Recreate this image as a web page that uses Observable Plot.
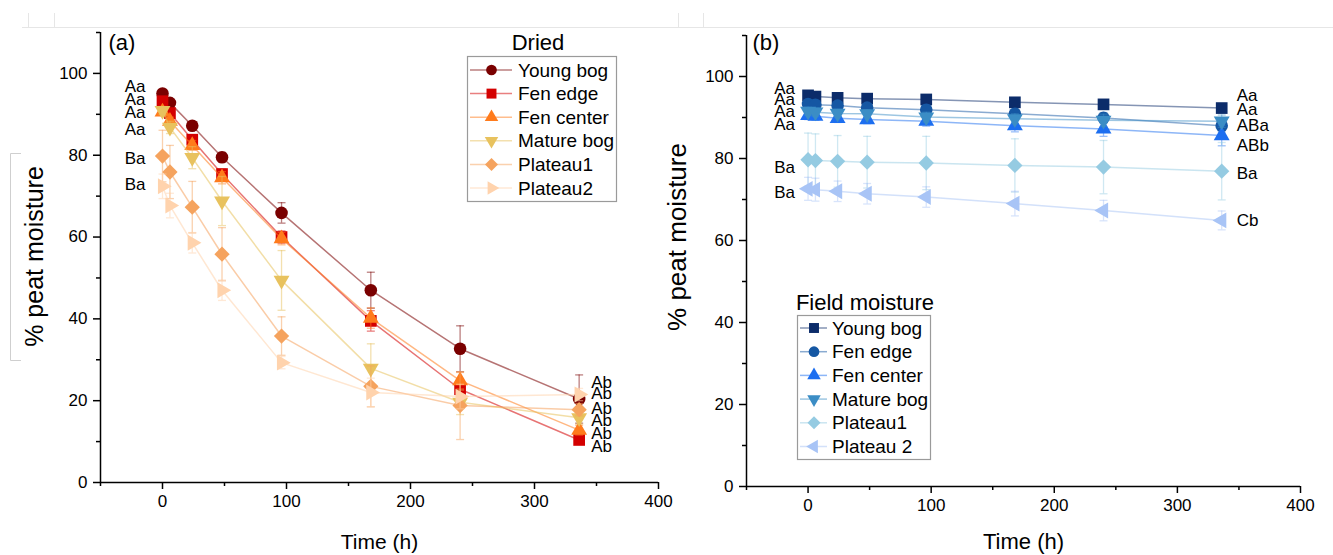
<!DOCTYPE html>
<html><head><meta charset="utf-8">
<script src="https://cdn.jsdelivr.net/npm/d3@7"></script>
<script src="https://cdn.jsdelivr.net/npm/@observablehq/plot@0.6"></script>
<style>
body{margin:0;background:#fff;}
#wrap{position:relative;width:1333px;height:555px;overflow:hidden;background:#fff;font-family:"Liberation Sans",Arial,sans-serif;}
#wrap > div, #wrap > svg{position:absolute;top:0;}
</style></head><body><div id="wrap"></div>
<script>
// ---------------- DATA ----------------
const times = [0, 6, 24, 48, 96, 168, 240, 336];

const driedSites = ["Young bog", "Fen edge", "Fen center", "Mature bog", "Plateau1", "Plateau2"];
const driedYoungBog  = [95.1, 92.8, 87.2, 79.5, 65.9, 47.0, 32.7, 20.4];
const driedFenEdge   = [93.2, 90.3, 83.8, 75.4, 60.0, 39.5, 22.8, 10.4];
const driedFenCenter = [90.6, 88.3, 82.4, 74.5, 59.6, 40.2, 24.9, 12.8];
const driedMatureBog = [90.9, 86.8, 79.4, 68.8, 49.4, 27.9, 19.6, 15.8];
const driedPlateau1  = [79.8, 75.9, 67.3, 55.8, 35.8, 23.5, 18.8, 17.8];
const driedPlateau2  = [72.4, 67.7, 58.6, 47.0, 29.3, 22.0, 21.0, 21.5];
const driedErrYoungBog  = [0.5, 0.5, 1.0, 1.2, 2.5, 4.4, 5.6, 5.9];
const driedErrFenEdge   = [0.5, 0.8, 1.0, 1.2, 1.5, 2.5, 2.0, 1.0];
const driedErrFenCenter = [0.8, 1.0, 1.2, 1.5, 1.5, 2.5, 2.0, 1.2];
const driedErrMatureBog = [1.0, 1.5, 2.7, 6.0, 7.3, 6.0, 3.0, 1.5];
const driedErrPlateau1  = [6.3, 6.5, 6.3, 6.5, 4.7, 5.0, 8.3, 1.5];
const driedErrPlateau2  = [3.0, 3.0, 2.5, 2.5, 1.5, 3.5, 3.0, 1.5];

const fieldSites = ["Young bog", "Fen edge", "Fen center", "Mature bog", "Plateau1", "Plateau 2"];
const fieldYoungBog  = [95.4, 95.1, 94.8, 94.6, 94.4, 93.7, 93.2, 92.3];
const fieldFenEdge   = [93.3, 93.1, 92.9, 92.4, 91.9, 90.9, 89.9, 88.0];
const fieldFenCenter = [90.5, 90.3, 89.8, 89.5, 89.1, 88.0, 87.2, 85.6];
const fieldMatureBog = [91.5, 91.3, 91.0, 90.9, 90.1, 89.7, 89.3, 89.1];
const fieldPlateau1  = [79.7, 79.5, 79.3, 79.1, 78.9, 78.3, 77.9, 76.9];
const fieldPlateau2  = [72.6, 72.4, 72.0, 71.4, 70.6, 69.0, 67.3, 64.9];
const fieldErrYoungBog  = [0.5, 0.5, 0.5, 0.5, 0.5, 0.6, 0.6, 0.7];
const fieldErrFenEdge   = [1.0, 1.0, 1.0, 1.0, 1.2, 1.2, 1.3, 1.5];
const fieldErrFenCenter = [1.0, 1.0, 1.0, 1.0, 1.2, 1.5, 1.8, 2.5];
const fieldErrMatureBog = [1.0, 1.0, 1.0, 1.0, 1.2, 1.2, 1.5, 1.5];
const fieldErrPlateau1  = [6.5, 6.5, 6.3, 6.3, 6.5, 6.5, 6.5, 7.0];
const fieldErrPlateau2  = [2.8, 2.8, 2.5, 2.5, 2.5, 3.0, 2.5, 2.3];

const driedStartLetters = ["Aa", "Aa", "Aa", "Aa", "Ba", "Ba"];
const driedStartLetterY = [96.8, 93.7, 90.5, 86.3, 79.3, 72.9];
const driedEndLetters   = ["Ab", "Ab", "Ab", "Ab", "Ab", "Ab"];
const driedEndLetterY   = [24.4, 21.7, 18.0, 15.1, 11.95, 8.8];
const fieldStartLetters = ["Aa", "Aa", "Aa", "Aa", "Ba", "Ba"];
const fieldStartLetterY = [97.1, 94.4, 91.5, 88.3, 77.8, 71.7];
const fieldEndLetters   = ["Aa", "Aa", "ABa", "ABb", "Ba", "Cb"];
const fieldEndLetterY   = [95.4, 92.0, 88.0, 83.2, 76.3, 64.9];

const xMajorTicks = [0, 100, 200, 300, 400];
const xMinorTicks = [-50, 50, 150, 250, 350];
const yMajorTicks = [0, 20, 40, 60, 80, 100];
const yMinorTicks = [10, 30, 50, 70, 90, 110];

const driedColors = ["#7a0000", "#d40000", "#ff7b1c", "#e8c25e", "#f5a35e", "#ffd3ad"];
const fieldColors = ["#0c2c6a", "#1557a3", "#1c6ef0", "#3b8dc5", "#95cbe2", "#a8c4f6"];
const driedSymbolNames = ["circle", "square", "triangle", "triangleDown", "diamond", "triangleRight"];
const fieldSymbolNames = ["square", "circle", "triangle", "triangleDown", "diamond", "triangleLeft"];

// ---------------- SYMBOLS ----------------
const triY = s => -Math.sqrt(s / (Math.sqrt(3) * 3));
const SYM = {
  circle: d3.symbolCircle,
  square: d3.symbolSquare,
  triangle: d3.symbolTriangle,
  triangleDown: {draw(c, s) { const y = triY(s), k = Math.sqrt(3); c.moveTo(0, -2 * y); c.lineTo(-k * y, y); c.lineTo(k * y, y); c.closePath(); }},
  triangleRight: {draw(c, s) { const y = triY(s), k = Math.sqrt(3); c.moveTo(-2 * y, 0); c.lineTo(y, -k * y); c.lineTo(y, k * y); c.closePath(); }},
  triangleLeft: {draw(c, s) { const y = triY(s), k = Math.sqrt(3); c.moveTo(2 * y, 0); c.lineTo(-y, k * y); c.lineTo(-y, -k * y); c.closePath(); }},
  diamond: {draw(c, s) { const r = Math.sqrt(s / 2); c.moveTo(0, -r); c.lineTo(r, 0); c.lineTo(0, r); c.lineTo(-r, 0); c.closePath(); }}
};
const SYM_R = {circle: 6.3, square: 6.6, triangle: 5.9, triangleDown: 5.9, triangleRight: 5.9, triangleLeft: 5.9, diamond: 6.1};
const capSymbol = {draw(c, s) { const w = Math.sqrt(s) / 2; c.moveTo(-w, 0); c.lineTo(w, 0); }};

const FONT = '"Liberation Sans", Arial, sans-serif';

function seriesRows(values, errs) {
  return times.map((t, j) => ({t, v: values[j], e: errs[j]}));
}

function seriesMarks(valueSets, errSets, colors, symbols, lineOpacity, barOpacity) {
  const marks = [];
  valueSets.forEach((vals, i) => {
    const rows = seriesRows(vals, errSets[i]);
    const c = colors[i];
    marks.push(
      Plot.ruleX(rows, {x: "t", y1: d => d.v - d.e, y2: d => d.v + d.e, stroke: c, strokeOpacity: barOpacity, strokeWidth: 1.3}),
      Plot.dot(rows, {x: "t", y: d => d.v + d.e, symbol: capSymbol, r: 4.5, fill: "none", stroke: c, strokeOpacity: barOpacity, strokeWidth: 1.3}),
      Plot.dot(rows, {x: "t", y: d => d.v - d.e, symbol: capSymbol, r: 4.5, fill: "none", stroke: c, strokeOpacity: barOpacity, strokeWidth: 1.3}),
      Plot.line(rows, {x: "t", y: "v", stroke: c, strokeOpacity: lineOpacity, strokeWidth: 1.5}),
      Plot.dot(rows, {x: "t", y: "v", symbol: SYM[symbols[i]], r: SYM_R[symbols[i]], fill: c, stroke: "none"})
    );
  });
  return marks;
}

function axisMarks() {
  return [
    Plot.axisX({ticks: xMajorTicks, tickSize: 7, tickPadding: 5, strokeWidth: 1.5, fontSize: 17, label: null}),
    Plot.axisX({ticks: xMinorTicks, tickSize: 4, strokeWidth: 1.5, tickFormat: () => "", label: null}),
    Plot.axisY({ticks: yMajorTicks, tickSize: 7, tickPadding: 6, strokeWidth: 1.5, fontSize: 17, label: null}),
    Plot.axisY({ticks: yMinorTicks, tickSize: 4, strokeWidth: 1.5, tickFormat: () => "", label: null}),
    Plot.ruleX([-50], {strokeWidth: 1.5, stroke: "#000"}),
    Plot.ruleY([0], {strokeWidth: 1.5, stroke: "#000"})
  ];
}

function letterMarks(letters, ys, t, dx, anchor) {
  const rows = letters.map((s, i) => ({t, v: ys[i], s}));
  return Plot.text(rows, {x: "t", y: "v", text: "s", dx, textAnchor: anchor, fontSize: 17, fill: "#000"});
}

// ---------------- PANEL (a) ----------------
const panelA = Plot.plot({
  width: 680, height: 555,
  marginTop: 32, marginRight: 22, marginBottom: 73, marginLeft: 100,
  x: {domain: [-50, 400], label: null},
  y: {domain: [0, 110], label: null},
  style: {background: "transparent", overflow: "visible", fontFamily: FONT, fontSize: "17px", color: "#000"},
  marks: [
    ...axisMarks(),
    ...seriesMarks(
      [driedYoungBog, driedFenEdge, driedFenCenter, driedMatureBog, driedPlateau1, driedPlateau2],
      [driedErrYoungBog, driedErrFenEdge, driedErrFenCenter, driedErrMatureBog, driedErrPlateau1, driedErrPlateau2],
      driedColors, driedSymbolNames, 0.55, 0.5),
    letterMarks(driedStartLetters, driedStartLetterY, 0, -17, "end"),
    letterMarks(driedEndLetters, driedEndLetterY, 336, 12, "start"),
    Plot.text(["(a)"], {text: d => d, frameAnchor: "top-left", dx: 8, dy: 10, textAnchor: "start", lineAnchor: "middle", fontSize: 22}),
    Plot.text(["Time (h)"], {text: d => d, frameAnchor: "bottom", dy: 60, textAnchor: "middle", lineAnchor: "middle", fontSize: 21}),
    Plot.text(["% peat moisture"], {text: d => d, frameAnchor: "left", rotate: -90, dx: -66, dy: -1, textAnchor: "middle", lineAnchor: "middle", fontSize: 25})
  ]
});

// ---------------- PANEL (b) ----------------
const panelB = Plot.plot({
  width: 683, height: 555,
  marginTop: 35, marginRight: 33, marginBottom: 69, marginLeft: 96,
  x: {domain: [-50, 400], label: null},
  y: {domain: [0, 110], label: null},
  style: {background: "transparent", overflow: "visible", fontFamily: FONT, fontSize: "17px", color: "#000"},
  marks: [
    ...axisMarks(),
    ...seriesMarks(
      [fieldYoungBog, fieldFenEdge, fieldFenCenter, fieldMatureBog, fieldPlateau1, fieldPlateau2],
      [fieldErrYoungBog, fieldErrFenEdge, fieldErrFenCenter, fieldErrMatureBog, fieldErrPlateau1, fieldErrPlateau2],
      fieldColors, fieldSymbolNames, 0.5, 0.45),
    letterMarks(fieldStartLetters, fieldStartLetterY, 0, -13, "end"),
    letterMarks(fieldEndLetters, fieldEndLetterY, 336, 15, "start"),
    Plot.text(["(b)"], {text: d => d, frameAnchor: "top-left", dx: 6, dy: 7, textAnchor: "start", lineAnchor: "middle", fontSize: 22}),
    Plot.text(["Time (h)"], {text: d => d, frameAnchor: "bottom", dy: 55, textAnchor: "middle", lineAnchor: "middle", fontSize: 22}),
    Plot.text(["% peat moisture"], {text: d => d, frameAnchor: "left", rotate: -90, dx: -69, dy: -24, textAnchor: "middle", lineAnchor: "middle", fontSize: 26})
  ]
});

const wrap = document.getElementById("wrap");
const divA = document.createElement("div"); divA.style.left = "0px"; divA.appendChild(panelA); wrap.appendChild(divA);
const divB = document.createElement("div"); divB.style.left = "650px"; divB.appendChild(panelB); wrap.appendChild(divB);

// ---------------- OVERLAY: legends + faint frame lines ----------------
const ov = d3.select(wrap).append("svg").attr("width", 1333).attr("height", 555)
  .style("left", "0px").style("font-family", FONT);

// faint screenshot frame lines
const faint = "#e6e6e6";
ov.append("line").attr("x1", 22).attr("x2", 1333).attr("y1", 27.5).attr("y2", 27.5).attr("stroke", faint);
[28, 54, 678, 703].forEach(x => ov.append("line").attr("x1", x + 0.5).attr("x2", x + 0.5).attr("y1", 13).attr("y2", 27).attr("stroke", faint));
ov.append("path").attr("d", "M21,153.5H10.5V360.5H21").attr("fill", "none").attr("stroke", "#cfcfcf");

function legend(cfg) {
  const g = ov.append("g");
  g.append("rect").attr("x", cfg.left + 0.5).attr("y", cfg.top + 0.5).attr("width", cfg.w).attr("height", cfg.h)
    .attr("fill", "#fff").attr("stroke", "#9a9a9a").attr("stroke-width", 1.2);
  g.append("text").attr("x", cfg.titleX).attr("y", cfg.titleY).attr("text-anchor", "middle")
    .attr("dominant-baseline", "central").attr("font-size", 22).attr("fill", "#000").text(cfg.title);
  cfg.names.forEach((name, i) => {
    const y = cfg.top + cfg.first + i * cfg.gap;
    g.append("line").attr("x1", cfg.lineX1).attr("x2", cfg.lineX2).attr("y1", y).attr("y2", y)
      .attr("stroke", cfg.colors[i]).attr("stroke-opacity", 0.5).attr("stroke-width", 1.5);
    const sname = cfg.symbols[i];
    const size = Math.PI * Math.pow(SYM_R[sname] * 0.85, 2);
    g.append("path").attr("d", d3.symbol(SYM[sname], size)()).attr("transform", `translate(${cfg.symX},${y})`)
      .attr("fill", cfg.colors[i]);
    g.append("text").attr("x", cfg.textX).attr("y", y).attr("dominant-baseline", "central")
      .attr("font-size", 19).attr("fill", "#000").text(name);
  });
}

legend({left: 467, top: 56, w: 149, h: 145, title: "Dried", titleX: 538, titleY: 42,
  names: driedSites, colors: driedColors, symbols: driedSymbolNames,
  first: 14, gap: 23.6, lineX1: 470, lineX2: 512, symX: 491.5, textX: 518});

legend({left: 797, top: 315, w: 133, h: 144, title: "Field moisture", titleX: 865, titleY: 302,
  names: fieldSites, colors: fieldColors, symbols: fieldSymbolNames,
  first: 13, gap: 23.7, lineX1: 800, lineX2: 827, symX: 814, textX: 832});
</script></body></html>
